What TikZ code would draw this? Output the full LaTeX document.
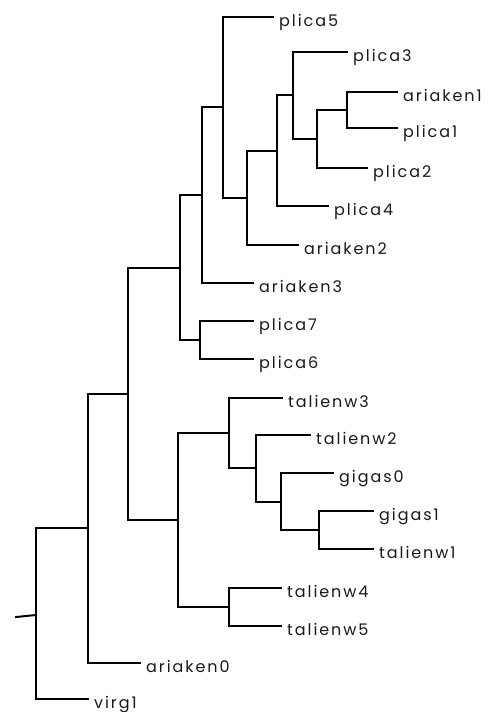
\documentclass[tikz,border=0pt]{standalone}
\usepackage{fontspec}
\setmainfont{Poppins}[LetterSpace=12]
\begin{document}
\begin{tikzpicture}[x=1pt,y=-1pt,
  br/.style={line width=2pt,line cap=rect,line join=miter},
  leaf/.style={anchor=west,inner xsep=6pt,inner ysep=0pt,text height=18pt,text depth=0pt,font=\fontsize{16}{18}\selectfont,text=black!90}]
\useasboundingbox (0,0) rectangle (497,712);
% internal nodes
\coordinate (r0) at (16,617);
\coordinate (R) at (36,615);
\coordinate (A) at (88,528);
\coordinate (B) at (128,394);
\coordinate (C) at (180,268);
\coordinate (D) at (202,195);
\coordinate (E) at (223,107);
\coordinate (F) at (247,198);
\coordinate (G) at (277,151);
\coordinate (H) at (293,95);
\coordinate (I) at (317,139);
\coordinate (J) at (347,110);
\coordinate (P) at (200,340);
\coordinate (T) at (178,520);
\coordinate (T1) at (229,433);
\coordinate (K) at (256,468);
\coordinate (L) at (281,502);
\coordinate (M) at (319,530);
\coordinate (T2) at (229,607);
% leaves
\node[leaf] (plica5) at (273,17) {plica5};
\node[leaf] (plica3) at (347,52) {plica3};
\node[leaf] (ariaken1) at (397,92) {ariaken1};
\node[leaf] (plica1) at (397,128) {plica1};
\node[leaf] (plica2) at (367,168) {plica2};
\node[leaf] (plica4) at (328,206) {plica4};
\node[leaf] (ariaken2) at (298,245) {ariaken2};
\node[leaf] (ariaken3) at (253,283) {ariaken3};
\node[leaf] (plica7) at (253,321) {plica7};
\node[leaf] (plica6) at (253,359) {plica6};
\node[leaf] (talienw3) at (282,398) {talienw3};
\node[leaf] (talienw2) at (310,435) {talienw2};
\node[leaf] (gigas0) at (333,473) {gigas0};
\node[leaf] (gigas1) at (373,511) {gigas1};
\node[leaf] (talienw1) at (373,549) {talienw1};
\node[leaf] (talienw4) at (281,588) {talienw4};
\node[leaf] (talienw5) at (281,626) {talienw5};
\node[leaf] (ariaken0) at (140,663) {ariaken0};
\node[leaf] (virg1) at (88,699) {virg1};
% branches
\draw[br] (r0) -- (R);
\draw[br] (R) |- (A);
\draw[br] (R) |- (virg1.west);
\draw[br] (A) |- (B);
\draw[br] (A) |- (ariaken0.west);
\draw[br] (B) |- (C);
\draw[br] (B) |- (T);
\draw[br] (C) |- (D);
\draw[br] (C) |- (P);
\draw[br] (D) |- (E);
\draw[br] (D) |- (ariaken3.west);
\draw[br] (E) |- (plica5.west);
\draw[br] (E) |- (F);
\draw[br] (F) |- (G);
\draw[br] (F) |- (ariaken2.west);
\draw[br] (G) |- (H);
\draw[br] (G) |- (plica4.west);
\draw[br] (H) |- (plica3.west);
\draw[br] (H) |- (I);
\draw[br] (I) |- (J);
\draw[br] (I) |- (plica2.west);
\draw[br] (J) |- (ariaken1.west);
\draw[br] (J) |- (plica1.west);
\draw[br] (P) |- (plica7.west);
\draw[br] (P) |- (plica6.west);
\draw[br] (T) |- (T1);
\draw[br] (T) |- (T2);
\draw[br] (T1) |- (talienw3.west);
\draw[br] (T1) |- (K);
\draw[br] (K) |- (talienw2.west);
\draw[br] (K) |- (L);
\draw[br] (L) |- (gigas0.west);
\draw[br] (L) |- (M);
\draw[br] (M) |- (gigas1.west);
\draw[br] (M) |- (talienw1.west);
\draw[br] (T2) |- (talienw4.west);
\draw[br] (T2) |- (talienw5.west);
\end{tikzpicture}
\end{document}
